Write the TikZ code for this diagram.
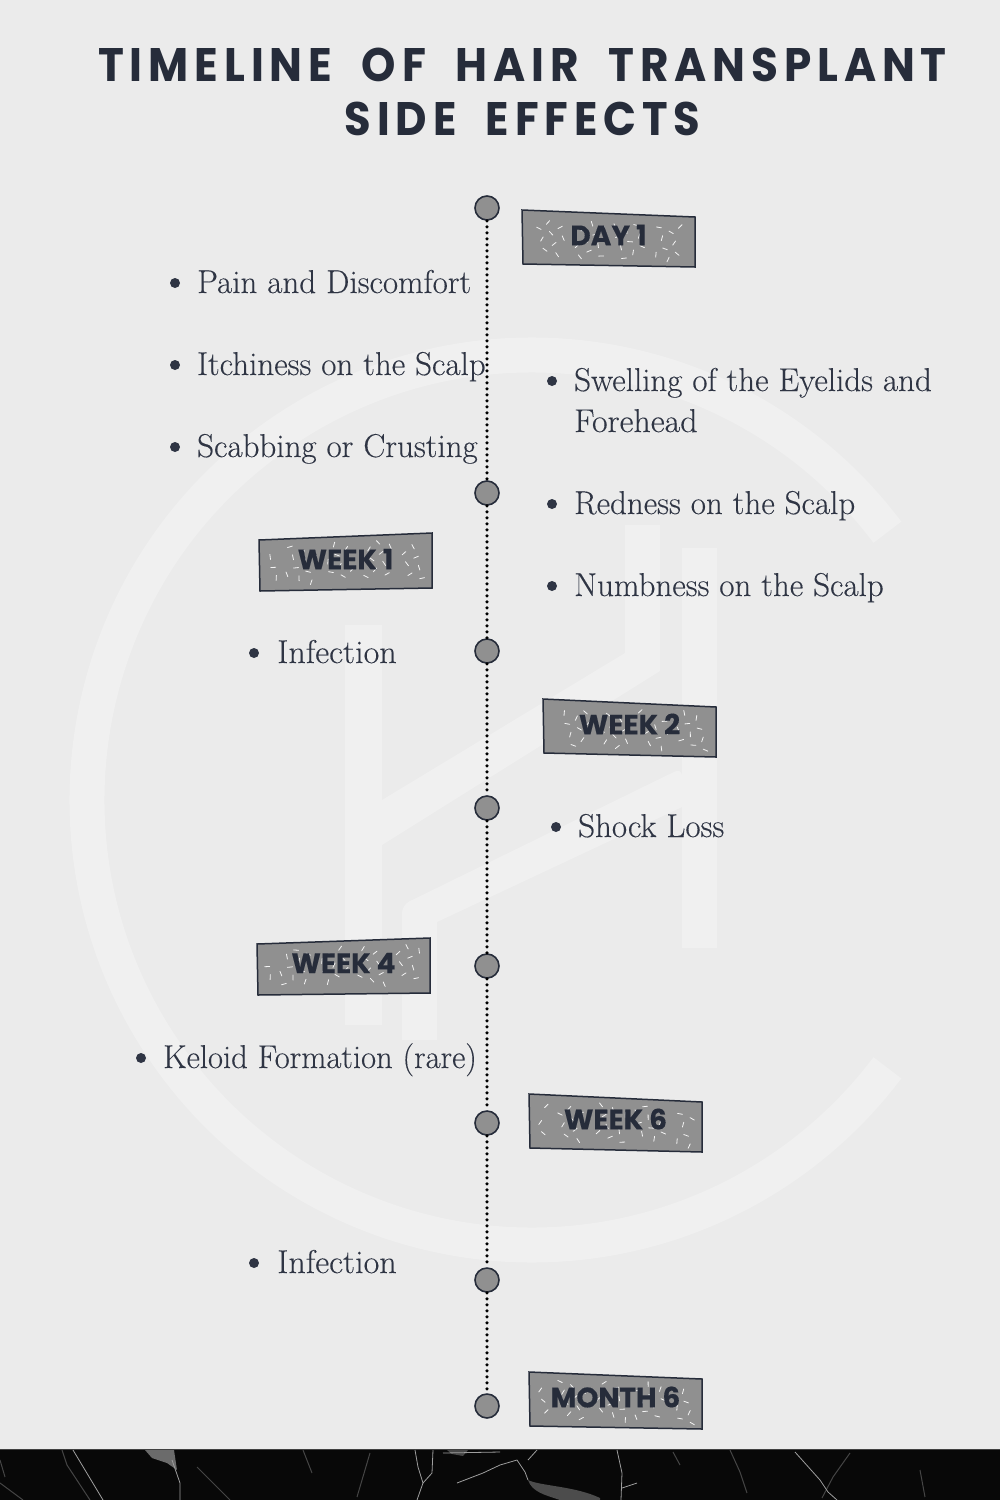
\documentclass[tikz,border=0pt]{standalone}
\usepackage{fontspec}
\newfontfamily\titlefont[LetterSpace=13.5,WordSpace=1.95]{Poppins}
\newfontfamily\tagfont[BoldFeatures={FakeBold=0.3}]{Poppins}
\newfontfamily\itemfont[FakeBold=0.2]{Latin Modern Roman}
\definecolor{bgc}{HTML}{EBEBEB}
\definecolor{wmc}{HTML}{F0F0F0}
\definecolor{ink}{HTML}{262C3A}
\definecolor{body}{HTML}{2F3544}
\definecolor{tagc}{HTML}{909090}
\tikzset{
  x=1pt,y=-1pt,
  ttl/.style={font=\titlefont\bfseries\fontsize{47}{54}\selectfont,text=ink,inner sep=0},
  item/.style={font=\itemfont\fontsize{33}{40}\selectfont,text=body,anchor=base west,inner sep=0},
  bul/.style={circle,fill=body,inner sep=0,minimum size=10pt},
  dotc/.style={circle,draw=ink,line width=1.6pt,fill=tagc,inner sep=0,minimum size=24pt},
  taglab/.style={font=\tagfont\bfseries\fontsize{28}{30}\selectfont,text=ink,inner sep=0},
  tagline/.style={draw=ink,line width=1.5pt,fill=tagc},
  wm/.style={draw=wmc,line width=35pt},
  wmf/.style={fill=wmc},
  vein/.style={draw=white!62!black,line width=.8pt},
  veinf/.style={draw=white!27!black,line width=1pt}
}
% #1 name, #2 x, #3 y (top-left corner), #4 dy of upper right, #5 label
\newcommand{\tagbox}[5]{%
  \begin{scope}[shift={(#2,#3)}]
    \path[tagline] (0,0) -- (173,#4) -- (173,{#4+50+(#4<0?5:0)}) -- (1,{54-(#4<0?3:0)}) -- cycle;
    \foreach \k in {1,...,38}{
      \pgfmathsetmacro{\px}{9+155*mod(\k*0.7549+#2*0.013,1)}
      \pgfmathsetmacro{\py}{7+38*mod(\k*0.5698+#3*0.017,1)+(#4/173)*\px}
      \pgfmathsetmacro{\pa}{180*mod(\k*0.382,1)}
      \draw[white!90!tagc,line width=.8pt,line cap=round] ({\px-2.5*cos(\pa)},{\py-2.5*sin(\pa)}) -- ({\px+2.5*cos(\pa)},{\py+2.5*sin(\pa)});
    }
    \node[taglab] (#1) at (86.5,{25-(#4<0?6:0)}) {#5};
  \end{scope}}
\begin{document}
\begin{tikzpicture}
\useasboundingbox (0,0) rectangle (1000,1500);
\fill[bgc] (0,0) rectangle (1000,1500);
% watermark
\draw[wm] (532,800)++(-37:445) arc[start angle=-37,end angle=-323,radius=445];
\fill[wmf] (345,625) rectangle (382,1025);
\fill[wmf] (625,525) rectangle (660,671);
\fill[wmf] (682,548) rectangle (717,948);
\fill[wmf] (382,800) -- (625,653) -- (660,653) -- (660,671) -- (382,845) -- cycle;
\fill[wmf] (402,1040) -- (402,925) [rounded corners=8pt] -- (402,905) -- (682,768) [sharp corners] -- (682,807) -- (437,922) -- (437,1040) -- cycle;
% band
\fill[black!97!white] (0,1449) rectangle (1000,1500);
\draw[white!25!black,line width=1pt] (0,1449.5) -- (1000,1449.5);
\fill[white!42!black] (145,1450) -- (174,1450) -- (177,1470) -- (167,1463) -- (152,1458) -- cycle;
\fill[white!30!black] (528,1480) .. controls (540,1486) and (575,1486) .. (600,1498) -- (600,1500) -- (560,1500) .. controls (545,1495) and (532,1492) .. cycle;
\fill[white!28!black] (447,1450) -- (468,1450) -- (463,1456) -- (452,1454) -- cycle;
\draw[veinf] (62,1450) -- (67,1465) -- (90,1500);
\draw[veinf] (197,1467) -- (230,1500);
\draw[veinf] (303,1450) -- (312,1473);
\draw[veinf] (370,1453) -- (357,1497);
\draw[veinf] (0,1460) -- (5,1477);
\draw[veinf] (0,1483) -- (23,1500);
\draw[veinf] (673,1452) -- (680,1465);
\draw[veinf] (730,1450) -- (740,1472) -- (747,1493);
\draw[veinf] (850,1453) -- (833,1477) -- (822,1498);
\draw[veinf] (920,1470) -- (925,1497);
\draw[vein] (73,1450) -- (103,1500);
\draw[vein] (172,1460) -- (180,1483) -- (180,1500);
\draw[vein] (415,1450) -- (418,1467) -- (423,1483) -- (417,1500);
\draw[vein] (433,1450) -- (432,1473) -- (423,1483);
\draw[vein] (443,1453) -- (500,1452);
\draw[vein] (457,1483) -- (483,1473) -- (500,1465) -- (517,1460) -- (525,1472) -- (528,1480);
\draw[vein] (528,1460) -- (537,1450);
\draw[vein] (617,1450) -- (622,1473) -- (621,1500);
\draw[vein] (622,1488) -- (637,1483);
\draw[vein] (795,1452) -- (820,1480) -- (828,1492) -- (837,1500);
% title
\node[ttl] (t1) at (522.5,65) {\scalebox{.93}[1]{TIMELINE OF HAIR TRANSPLANT}};
\node[ttl] (t2) at (522.5,119) {\scalebox{.92}[1]{SIDE EFFECTS}};
% timeline dots
\foreach \n/\y in {c1/208,c2/493,c3/651,c4/808,c5/966,c6/1123,c7/1280,c8/1406}
  \node[dotc] (\n) at (487,\y) {};
\foreach \a/\b in {c1/c2,c2/c3,c3/c4,c4/c5,c5/c6,c6/c7,c7/c8}
  \draw[black,line width=3.6pt,line cap=round,dash pattern=on 0pt off 6pt] (\a) -- (\b);
% tags
\tagbox{d1}{522}{210}{7}{DAY 1}
\tagbox{w1}{259}{540}{-7}{WEEK 1}
\tagbox{w2}{543}{699}{8}{WEEK 2}
\tagbox{w4}{257}{944}{-6}{WEEK 4}
\tagbox{w6}{529}{1094}{8}{WEEK 6}
\tagbox{m6}{529}{1372}{7}{MONTH 6}
% items
\foreach \n/\bx/\tx/\y/\s in {
  i1/175/197/293/Pain and Discomfort,
  i2/175/197/375/Itchiness on the Scalp,
  i3/175/197/457/Scabbing or Crusting,
  i4/552/574/391/Swelling of the Eyelids and,
  i5/552/574/514/Redness on the Scalp,
  i6/552/574/596/Numbness on the Scalp,
  i7/254/277/663/\scalebox{1.035}[1]{Infection},
  i8/556/578/837/Shock Loss,
  i9/141/163/1068/\scalebox{.988}[1]{Keloid Formation (rare)},
  i10/254/277/1273/\scalebox{1.035}[1]{Infection}}{
  \node[bul] (b\n) at (\bx,{\y-10}) {};
  \node[item] (\n) at (\tx,\y) {\s};
}
\node[item] (i4b) at (574,432) {\scalebox{1.03}[1]{Forehead}};
\end{tikzpicture}
\end{document}
